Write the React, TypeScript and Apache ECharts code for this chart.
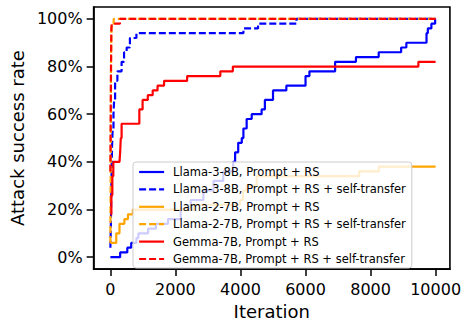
import React, { useEffect, useRef } from "react";
import * as echarts from "echarts";

const xTicks = [0, 2000, 4000, 6000, 8000, 10000];
const yTicks = [0, 20, 40, 60, 80, 100];

const seriesNames = [
  "Llama-3-8B, Prompt + RS",
  "Llama-3-8B, Prompt + RS + self-transfer",
  "Llama-2-7B, Prompt + RS",
  "Llama-2-7B, Prompt + RS + self-transfer",
  "Gemma-7B, Prompt + RS",
  "Gemma-7B, Prompt + RS + self-transfer",
];

const llama3Iter = [0, 300, 520, 640, 800, 860, 1160, 1400, 1770, 2160, 2470, 2860, 3170, 3470, 3775, 3835, 3930, 4040, 4090, 4190, 4345, 4650, 4750, 5000, 5410, 6000, 6120, 6910, 7550, 8250, 8940, 9100, 9720, 9760, 9870, 9985, 10000];
const llama3Rate = [0, 2, 4, 6, 8, 10, 12, 14, 16, 20, 24, 28, 32, 36, 40, 44, 48, 50, 54, 58, 60, 62, 66, 70, 72, 76, 78, 82, 84, 86, 88, 90, 94, 96, 98, 100, 100];

const llama3StIter = [0, 15, 30, 50, 70, 95, 115, 145, 215, 345, 420, 500, 600, 800, 4090, 4540, 5720, 10000];
const llama3StRate = [4, 14, 30, 46, 54, 60, 66, 74, 78, 82, 86, 88, 92, 94, 96, 98, 100, 100];

const llama2Iter = [0, 180, 280, 430, 540, 690, 2570, 3990, 4080, 4190, 4500, 7650, 8250, 10000];
const llama2Rate = [6, 10, 14, 16, 18, 20, 22, 24, 28, 30, 34, 36, 38, 38];

const llama2StIter = [0, 10, 20, 30, 45, 100, 10000];
const llama2StRate = [6, 40, 80, 94, 98, 100, 100];

const gemmaIter = [0, 30, 60, 90, 280, 300, 320, 345, 890, 990, 1150, 1300, 1450, 1650, 2360, 3380, 3765, 9470, 10000];
const gemmaRate = [18, 26, 34, 40, 40, 44, 50, 56, 62, 66, 68, 70, 72, 74, 76, 78, 80, 82, 82];

const gemmaStIter = [0, 10, 20, 30, 45, 295, 10000];
const gemmaStRate = [36, 60, 82, 96, 98, 100, 100];

const colors = ["#0000ff", "#0000ff", "#ffa500", "#ffa500", "#ff0000", "#ff0000"];
const dashed = [false, true, false, true, false, true];
const iters = [llama3Iter, llama3StIter, llama2Iter, llama2StIter, gemmaIter, gemmaStIter];
const rates = [llama3Rate, llama3StRate, llama2Rate, llama2StRate, gemmaRate, gemmaStRate];

const FONT = "DejaVu Sans";

export default function App() {
  const ref = useRef<HTMLDivElement>(null);
  useEffect(() => {
    if (!ref.current) return;
    const chart = echarts.init(ref.current, undefined, { renderer: "svg" });
    const series = seriesNames.map((name, i) => ({
      name,
      type: "line",
      step: "end",
      symbol: "none",
      showSymbol: false,
      color: colors[i],
      lineStyle: {
        color: colors[i],
        width: 2.2,
        type: dashed[i] ? [7, 3] : "solid",
      },
      data: iters[i].map((x, j) => [x, rates[i][j]]),
    }));
    chart.setOption({
      animation: false,
      backgroundColor: "#ffffff",
      grid: {
        left: 92,
        right: 12,
        top: 7,
        bottom: 49,
        show: true,
        borderColor: "#000",
        borderWidth: 1.6,
        backgroundColor: "transparent",
      },
      xAxis: {
        type: "value",
        min: -515,
        max: 10440,
        name: "Iteration",
        nameLocation: "middle",
        nameGap: 25,
        nameTextStyle: { fontFamily: FONT, fontSize: 18, color: "#000" },
        axisLine: { show: true, onZero: false, lineStyle: { color: "#000", width: 1.6 } },
        axisTick: { show: true, length: 7, lineStyle: { color: "#000", width: 1.5 }, customValues: xTicks },
        axisLabel: {
          fontFamily: FONT,
          fontSize: 16,
          color: "#000",
          margin: 12,
          customValues: xTicks,
          formatter: (v: number) => String(v),
        },
        splitLine: { show: false },
      },
      yAxis: {
        type: "value",
        min: -5,
        max: 105,
        name: "Attack success rate",
        nameLocation: "middle",
        nameGap: 64,
        nameTextStyle: { fontFamily: FONT, fontSize: 18, color: "#000" },
        axisLine: { show: true, onZero: false, lineStyle: { color: "#000", width: 1.6 } },
        axisTick: { show: true, length: 7, lineStyle: { color: "#000", width: 1.5 }, customValues: yTicks },
        axisLabel: {
          fontFamily: FONT,
          fontSize: 16,
          color: "#000",
          margin: 11,
          customValues: yTicks,
          formatter: (v: number) => `${v}%`,
        },
        splitLine: { show: false },
      },
      legend: {
        orient: "vertical",
        left: 133,
        top: 162,
        padding: [3, 6, 2, 5],
        itemWidth: 25,
        itemHeight: 14,
        itemGap: 3.4,
        backgroundColor: "rgba(255,255,255,0.8)",
        borderColor: "#cccccc",
        borderWidth: 1,
        borderRadius: 3,
        itemStyle: { opacity: 0 },
        lineStyle: { width: 2.2 },
        textStyle: { fontFamily: FONT, fontSize: 11.5, color: "#000", lineHeight: 14, padding: [0, 0, 0, 4] },
        data: seriesNames,
      },
      series,
    });
    return () => chart.dispose();
  }, []);
  return <div ref={ref} style={{ position: "fixed", left: 0, top: 0, width: 464, height: 325 }} />;
}
